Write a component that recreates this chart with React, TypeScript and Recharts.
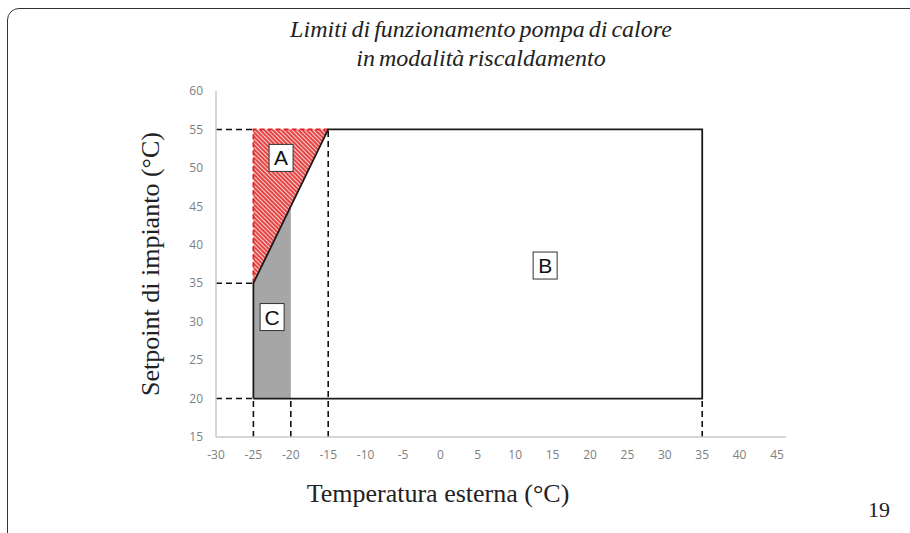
import React from "react";
import {
  ComposedChart,
  Line,
  Area,
  Scatter,
  XAxis,
  YAxis,
} from "recharts";

// axis ticks
const xTicks = [-30, -25, -20, -15, -10, -5, 0, 5, 10, 15, 20, 25, 30, 35, 40, 45];
const yTicks = [15, 20, 25, 30, 35, 40, 45, 50, 55, 60];
const xMinor = Array.from({ length: 77 }, (_, i) => -30 + i);
const yMinor = Array.from({ length: 46 }, (_, i) => 15 + i);

// zone B outline (operating envelope)
const outlineX = [-25, -25, -15, 35, 35, -25];
const outlineY = [20, 35, 55, 55, 20, 20];

// zone A (red hatched triangle)
const zoneAX = [-25, -15];
const zoneALow = [35, 55];
const zoneAHigh = [55, 55];

// zone C (grey)
const zoneCX = [-25, -20];
const zoneCLow = [20, 20];
const zoneCHigh = [35, 45];

// red dashed edges of zone A
const redX = [-25, -25, -15];
const redY = [35, 55, 55];

// black dashed guides [x1, y1, x2, y2]
const guides = [
  [-30, 55, -25, 55],
  [-30, 35, -25, 35],
  [-30, 20, -25, 20],
  [-25, 15, -25, 20],
  [-20, 15, -20, 20],
  [-15, 15, -15, 55],
  [35, 15, 35, 20],
];

// boxed zone letters
const zoneLabels = [
  { x: -21.3, y: 51.3, name: "A" },
  { x: 14, y: 37.3, name: "B" },
  { x: -22.5, y: 30.6, name: "C" },
];

const outlineData = outlineX.map((x, i) => ({ x, y: outlineY[i] }));
const zoneAData = zoneAX.map((x, i) => ({ x, range: [zoneALow[i], zoneAHigh[i]] }));
const zoneCData = zoneCX.map((x, i) => ({ x, range: [zoneCLow[i], zoneCHigh[i]] }));
const redData = redX.map((x, i) => ({ x, y: redY[i] }));
const guideData = guides.flatMap(([x1, y1, x2, y2]) => [
  { x: x1, y: y1 },
  { x: x2, y: y2 },
  { x: x2, y: null },
]);

const tickStyle = { fontFamily: "Open Sans", fontSize: 12, fill: "#808080" };
const serif = "'Liberation Serif', serif";
const blank = () => "";

const BoxLabel = (props: any) => {
  const { cx, cy, payload } = props;
  return (
    <g>
      <rect x={cx - 12} y={cy - 13.5} width={24} height={27} fill="#fff" stroke="#333" strokeWidth={1} />
      <text
        x={cx}
        y={cy + 7.5}
        textAnchor="middle"
        fontFamily="'Liberation Sans', Arial, sans-serif"
        fontSize={21}
        fill="#111"
      >
        {payload.name}
      </text>
    </g>
  );
};

export default function App() {
  return (
    <div style={{ position: "absolute", left: 0, top: 0, width: 910, height: 533, overflow: "hidden", background: "#fff" }}>
      <div
        style={{
          position: "absolute",
          left: 7,
          top: 8,
          width: 960,
          height: 537,
          border: "1.5px solid #333",
          borderRadius: 12,
        }}
      />
      <div
        style={{
          position: "absolute",
          left: 0,
          top: 15,
          width: 962,
          textAlign: "center",
          fontFamily: serif,
          fontStyle: "italic",
          fontSize: 24,
          lineHeight: "29px",
          wordSpacing: -2,
          color: "#222",
        }}
      >
        Limiti di funzionamento pompa di calore
        <br />
        in modalità riscaldamento
      </div>
      <ComposedChart
        width={910}
        height={533}
        margin={{ top: 91, right: 124, bottom: 66, left: 136 }}
        style={{ position: "absolute", left: 0, top: 0 }}
      >
        <defs>
          <pattern id="hatch" width={3} height={3} patternUnits="userSpaceOnUse" patternTransform="rotate(-45)">
            <rect width={3} height={3} fill="#e64545" />
            <line x1={0} y1={0} x2={0} y2={3} stroke="#fff" strokeWidth={1.5} />
          </pattern>
        </defs>
        <XAxis
          xAxisId="minor"
          type="number"
          dataKey="x"
          domain={[-30, 46.2]}
          allowDataOverflow
          ticks={xMinor}
          interval={0}
          tickFormatter={blank}
          axisLine={false}
          tickLine={{ stroke: "#c8c8c8" }}
          tickSize={3}
          height={0}
        />
        <XAxis
          type="number"
          dataKey="x"
          domain={[-30, 46.2]}
          allowDataOverflow
          ticks={xTicks}
          interval={0}
          tick={tickStyle}
          axisLine={{ stroke: "#c8c8c8", strokeWidth: 1.5 }}
          tickLine={false}
          tickMargin={7}
          height={30}
        />
        <YAxis
          yAxisId="minor"
          type="number"
          domain={[15, 60]}
          allowDataOverflow
          ticks={yMinor}
          interval={0}
          tickFormatter={blank}
          axisLine={false}
          tickLine={{ stroke: "#c8c8c8" }}
          tickSize={3}
          width={0}
        />
        <YAxis
          type="number"
          domain={[15, 60]}
          allowDataOverflow
          ticks={yTicks}
          interval={0}
          tick={tickStyle}
          axisLine={{ stroke: "#c8c8c8", strokeWidth: 1.5 }}
          tickLine={false}
          tickMargin={7}
          width={80}
          label={{
            value: "Setpoint di impianto (°C)",
            angle: -90,
            position: "insideLeft",
            offset: 14,
            style: { textAnchor: "middle", fontFamily: serif, fontSize: 26, fill: "#222" },
          }}
        />
        <Area
          data={zoneCData}
          dataKey="range"
          type="linear"
          fill="#a6a6a6"
          fillOpacity={1}
          stroke="none"
          isAnimationActive={false}
        />
        <Area
          data={zoneAData}
          dataKey="range"
          type="linear"
          fill="url(#hatch)"
          fillOpacity={1}
          stroke="none"
          isAnimationActive={false}
        />
        <Line
          data={redData}
          dataKey="y"
          type="linear"
          stroke="#e02020"
          strokeWidth={1.8}
          strokeDasharray="5 3"
          dot={false}
          activeDot={false}
          isAnimationActive={false}
        />
        <Line
          data={guideData}
          dataKey="y"
          type="linear"
          stroke="#111"
          strokeWidth={1.6}
          strokeDasharray="6 4"
          dot={false}
          activeDot={false}
          isAnimationActive={false}
        />
        <Line
          data={outlineData}
          dataKey="y"
          type="linear"
          stroke="#1a1a1a"
          strokeWidth={1.8}
          dot={false}
          activeDot={false}
          isAnimationActive={false}
        />
        <Scatter data={zoneLabels} dataKey="y" shape={BoxLabel} isAnimationActive={false} />
      </ComposedChart>
      <div
        style={{
          position: "absolute",
          left: 238,
          top: 479,
          width: 400,
          textAlign: "center",
          fontFamily: serif,
          fontSize: 26,
          color: "#222",
        }}
      >
        Temperatura esterna (°C)
      </div>
      <div
        style={{
          position: "absolute",
          left: 840,
          top: 497,
          width: 50,
          textAlign: "right",
          fontFamily: serif,
          fontSize: 22,
          color: "#222",
        }}
      >
        19
      </div>
    </div>
  );
}
